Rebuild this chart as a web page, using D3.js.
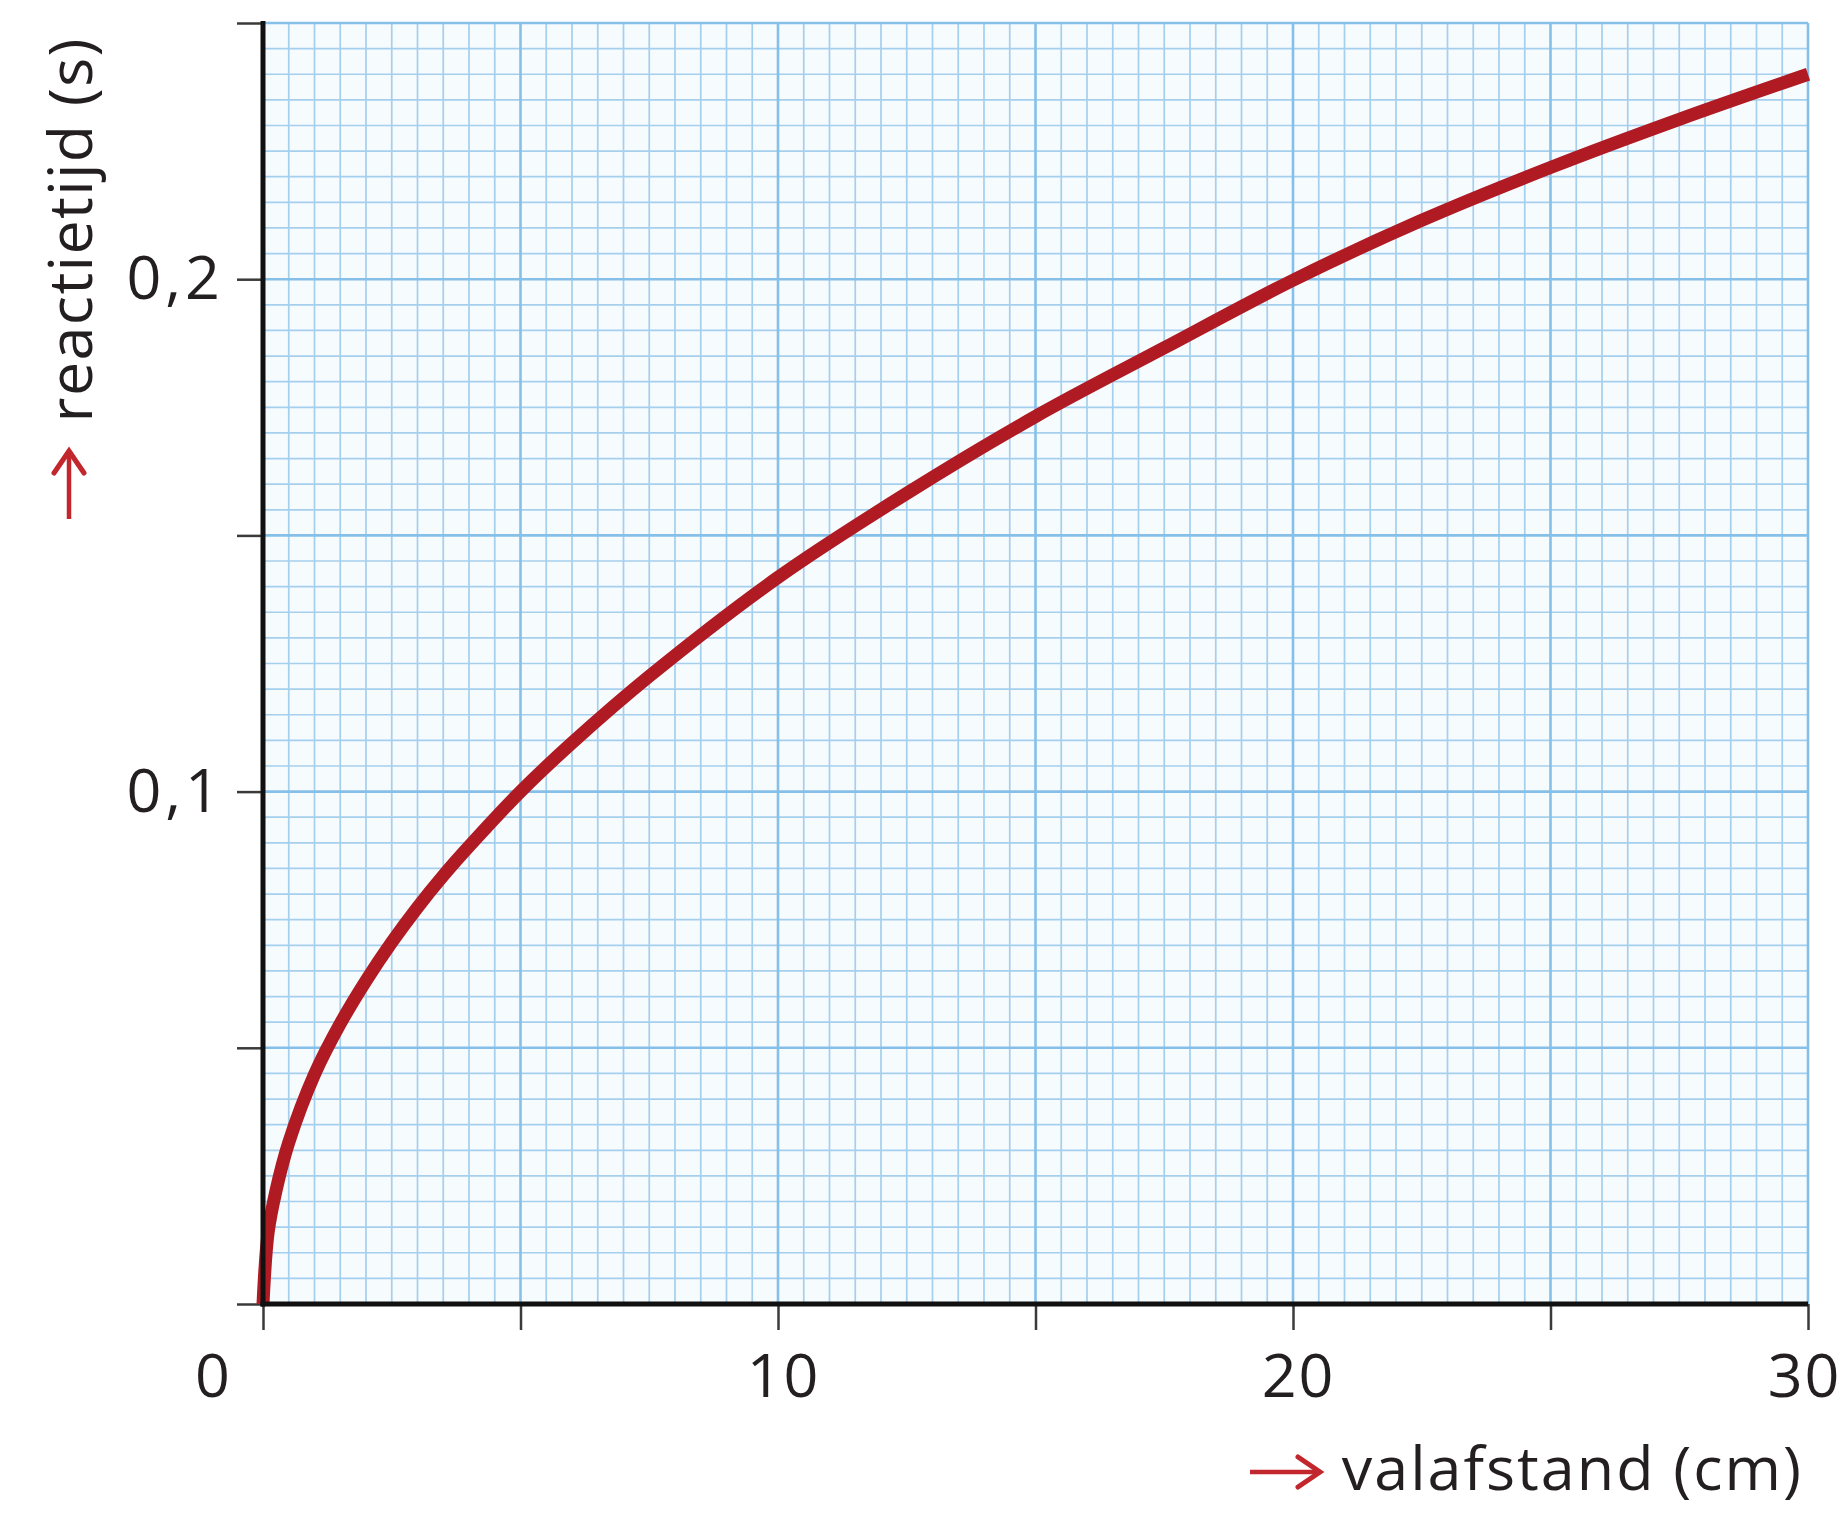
<!DOCTYPE html>
<html>
<head>
<meta charset="utf-8">
<script src="https://cdn.jsdelivr.net/npm/d3@7"></script>
<style>
  html, body { margin: 0; padding: 0; background: #ffffff; }
  svg { display: block; }
</style>
</head>
<body>
<svg id="chart" width="1846" height="1517"></svg>
<script>
// ---- data ----
const distanceCm = [0, 0.1, 0.25, 0.5, 1, 1.5, 2, 2.5, 3, 3.5, 4, 5, 6, 7.5, 10, 12.5, 15, 17.5, 20, 22.5, 25, 27.5, 30];
const reactionS  = [0, 0.014, 0.022, 0.0315, 0.0448, 0.0547, 0.0631, 0.0706, 0.0774, 0.0836, 0.0893, 0.100, 0.1095, 0.1225, 0.1418, 0.1582, 0.1732, 0.1866, 0.1998, 0.2115, 0.2218, 0.2312, 0.2400];

const xTickValues = [0, 5, 10, 15, 20, 25, 30];
const xTickLabels = {0: "0", 10: "10", 20: "20", 30: "30"};
const yTickValues = [0, 0.05, 0.1, 0.15, 0.2, 0.25];
const yTickLabels = {"0.1": "0,1", "0.2": "0,2"};
const xTitle = "valafstand (cm)";
const yTitle = "reactietijd (s)";

// ---- layout ----
const svg = d3.select("#chart");
const plotLeft = 263, plotRight = 1808, plotTop = 23, plotBottom = 1304;
const x = d3.scaleLinear().domain([0, 30]).range([plotLeft, plotRight]);
const y = d3.scaleLinear().domain([0, 0.25]).range([plotBottom, plotTop]);

const font = "'Open Sans', sans-serif";
const textColor = "#231f20";
const arrowRed = "#c1272d";

// paper background
svg.append("rect")
  .attr("x", x(0)).attr("y", y(0.25))
  .attr("width", x(30) - x(0)).attr("height", y(0) - y(0.25))
  .attr("fill", "#f6fbfe");

// grid
const grid = svg.append("g");
const vLines = d3.range(0, 61).map(i => i * 0.5);
const hLines = d3.range(0, 51).map(i => i * 0.005);
grid.selectAll("line.vmin").data(vLines.filter((d, i) => i % 10 !== 0)).join("line")
  .attr("x1", d => x(d)).attr("x2", d => x(d))
  .attr("y1", y(0)).attr("y2", y(0.25))
  .attr("stroke", "#a4cfed").attr("stroke-width", 1.7);
grid.selectAll("line.hmin").data(hLines.filter((d, i) => i % 10 !== 0)).join("line")
  .attr("y1", d => y(d)).attr("y2", d => y(d))
  .attr("x1", x(0)).attr("x2", x(30))
  .attr("stroke", "#a4cfed").attr("stroke-width", 1.7);
grid.selectAll("line.vmaj").data(vLines.filter((d, i) => i % 10 === 0)).join("line")
  .attr("x1", d => x(d)).attr("x2", d => x(d))
  .attr("y1", y(0)).attr("y2", y(0.25))
  .attr("stroke", "#86c0e9").attr("stroke-width", 2.6);
grid.selectAll("line.hmaj").data(hLines.filter((d, i) => i % 10 === 0)).join("line")
  .attr("y1", d => y(d)).attr("y2", d => y(d))
  .attr("x1", x(0)).attr("x2", x(30))
  .attr("stroke", "#86c0e9").attr("stroke-width", 2.6);

// axes (ticks + labels)
const xAxis = d3.axisBottom(x).tickValues(xTickValues).tickSize(26).tickPadding(24)
  .tickFormat(d => xTickLabels[d] || "");
const yAxis = d3.axisLeft(y).tickValues(yTickValues).tickSize(26).tickPadding(13)
  .tickFormat(d => yTickLabels[String(d)] || "");

const gx = svg.append("g").attr("transform", `translate(0,${plotBottom})`).call(xAxis);
const gy = svg.append("g").attr("transform", `translate(${plotLeft},0)`).call(yAxis);
[gx, gy].forEach(g => {
  g.select(".domain").remove();
  g.selectAll(".tick line").attr("stroke", "#3a3a3a").attr("stroke-width", 2.5);
  g.selectAll(".tick text").attr("fill", textColor)
    .style("font-family", font).style("font-size", "61px");
});
gy.selectAll(".tick text").style("letter-spacing", "4px");
gx.selectAll(".tick text").style("letter-spacing", "2px");
gx.selectAll(".tick text").filter(d => d === 0).attr("dx", "-50px");
gx.selectAll(".tick text").filter(d => d === 10 || d === 20).attr("dx", "5px");
gx.selectAll(".tick text").filter(d => d === 30).attr("dx", "-4px");

// curve
svg.append("path")
  .datum(distanceCm.map((d, i) => [d, reactionS[i]]))
  .attr("fill", "none")
  .attr("stroke", "#b01a22")
  .attr("stroke-width", 13)
  .attr("stroke-linecap", "butt")
  .attr("d", d3.line().x(d => x(d[0])).y(d => y(d[1])).curve(d3.curveCatmullRom.alpha(0.5)));

// axis lines
svg.append("line").attr("x1", plotLeft).attr("x2", plotLeft).attr("y1", plotTop - 2).attr("y2", plotBottom + 2.5)
  .attr("stroke", "#111").attr("stroke-width", 5);
svg.append("line").attr("x1", plotLeft - 2.5).attr("x2", plotRight).attr("y1", plotBottom).attr("y2", plotBottom)
  .attr("stroke", "#111").attr("stroke-width", 5);

// axis titles
svg.append("text")
  .attr("x", 1803).attr("y", 1490)
  .attr("text-anchor", "end")
  .attr("fill", textColor)
  .style("font-family", font).style("font-size", "61px").style("letter-spacing", "2px")
  .text(xTitle);

svg.append("text")
  .attr("transform", "translate(92,37) rotate(-90)")
  .attr("text-anchor", "end")
  .attr("fill", textColor)
  .style("font-family", font).style("font-size", "61px").style("letter-spacing", "1.4px")
  .text(yTitle);

// red arrows in front of the axis titles
function arrow(x1, y1, x2, y2) {
  const ang = Math.atan2(y2 - y1, x2 - x1);
  const hl = 22, hw = 15;
  const bx = x2 - hl * Math.cos(ang), by = y2 - hl * Math.sin(ang);
  const px = -Math.sin(ang) * hw, py = Math.cos(ang) * hw;
  svg.append("line").attr("x1", x1).attr("y1", y1).attr("x2", x2 - 3 * Math.cos(ang)).attr("y2", y2 - 3 * Math.sin(ang))
    .attr("stroke", arrowRed).attr("stroke-width", 4.5);
  svg.append("path")
    .attr("d", `M${bx + px},${by + py} L${x2},${y2} L${bx - px},${by - py}`)
    .attr("fill", "none").attr("stroke", arrowRed).attr("stroke-width", 5)
    .attr("stroke-linejoin", "miter").attr("stroke-linecap", "round");
}
arrow(1250, 1472, 1320, 1472);
arrow(69, 519, 69, 451);
</script>
</body>
</html>
